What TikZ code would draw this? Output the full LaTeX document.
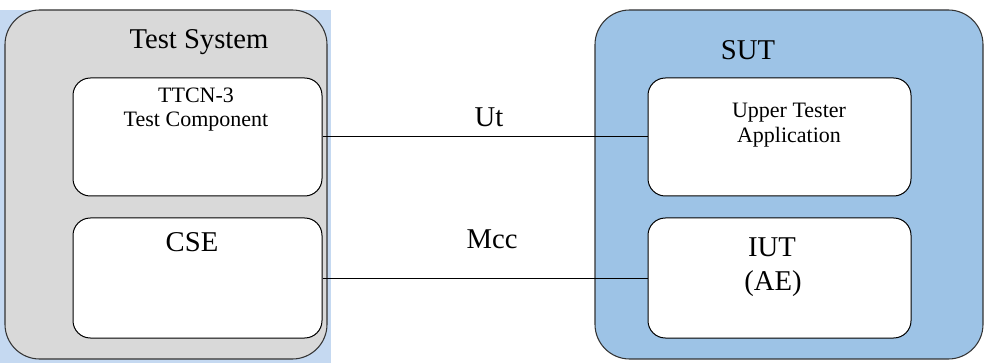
\documentclass[tikz,border=0pt]{standalone}
\usepackage{fontspec}
\setmainfont{Liberation Serif}
\definecolor{sysgray}{RGB}{217,217,217}
\definecolor{sutblue}{RGB}{157,195,230}
\definecolor{paleblue}{RGB}{197,217,241}
\begin{document}
\begin{tikzpicture}[x=0.75pt,y=-0.75pt,
    outerbox/.style={draw=black!80, line width=0.8pt, rounded corners=26pt, inner sep=0pt},
    innerbox/.style={draw=black, fill=white, line width=0.75pt, rounded corners=13pt, inner sep=0pt},
    txt/.style={anchor=base, inner sep=0pt},
    big/.style={font=\fontsize{21.5}{24}\selectfont},
    small/.style={font=\fontsize{16.5}{19}\selectfont}]
    \useasboundingbox (0,0) rectangle (984,363);
    % Backdrop
    \fill[paleblue] (0,10) rectangle (331,363);
    % Test System
    \node[outerbox, fill=sysgray, minimum width=241.5pt, minimum height=261.75pt] (testsys) at (166,184.5) {};
    \node[txt, big] (testsystxt) at (199,49) {Test System};
    % SUT
    \node[outerbox, fill=sutblue, minimum width=291pt, minimum height=261.75pt] (sut) at (789,184.5) {};
    \node[txt, big] (suttxt) at (748,60) {SUT};
    % Inner components
    \node[innerbox, minimum width=186.75pt, minimum height=88.5pt] (ttcn) at (197.5,137) {};
    \node[txt, small] (ttcntxt) at (196,103) {TTCN-3};
    \node[txt, small] (comptxt) at (196,127) {Test Component};
    \node[innerbox, minimum width=186.75pt, minimum height=90pt] (cse) at (197.5,278) {};
    \node[txt, big] (csetxt) at (192,252) {CSE};
    \node[innerbox, minimum width=197.25pt, minimum height=88.5pt] (upper) at (779.5,137) {};
    \node[txt, small] (uppertxt) at (789,118) {Upper Tester};
    \node[txt, small] (apptxt) at (789,143) {Application};
    \node[innerbox, minimum width=197.25pt, minimum height=90pt] (iut) at (779.5,278) {};
    \node[txt, big] (iuttxt) at (772,257) {IUT};
    \node[txt, big] (aetxt) at (773,290) {(AE)};
    % Links
    \draw[line width=0.75pt] (ttcn.east) -- (upper.west);
    \draw[line width=0.75pt] (cse.east) -- (iut.west);
    \node[txt, big] (uttxt) at (489,127) {Ut};
    \node[txt, big] (mcctxt) at (492,248) {Mcc};
\end{tikzpicture}
\end{document}
